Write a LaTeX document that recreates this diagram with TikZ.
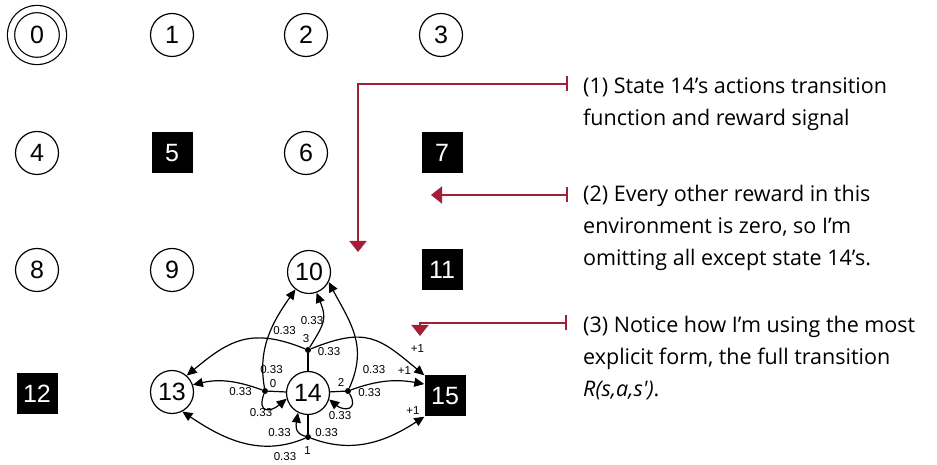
\documentclass[tikz,border=0pt]{standalone}
\usepackage{fontspec}
\setmainfont{Liberation Sans}
\newfontfamily\notefont{Open Sans}
\usetikzlibrary{arrows.meta}
\definecolor{notered}{RGB}{164,30,55}
\begin{document}
\begin{tikzpicture}[x=1pt,y=1pt]
  \tikzset{
    st/.style={circle,draw,line width=1.2pt,minimum size=43pt,inner sep=0pt,
               font=\fontsize{25}{25}\selectfont},
    hole/.style={rectangle,fill=black,text=white,minimum size=41pt,inner sep=0pt,
                 font=\fontsize{25}{25}\selectfont},
    goal/.style={st,minimum size=52pt,double,double distance=6pt},
    act/.style={circle,fill=black,inner sep=0pt,minimum size=6pt},
    pr/.style={font=\fontsize{11.5}{12}\selectfont,inner sep=0pt},
    ar/.style={-{Triangle[length=10pt,width=9pt]},line width=1.2pt},
    nt/.style={draw=notered,fill=none,line width=1.8pt,
               {Bar[width=15pt]}-{Triangle[length=11pt,width=17pt]}},
    txt/.style={anchor=west,align=left,inner sep=0pt,
                font=\notefont\fontsize{21.5}{32}\selectfont}
  }
  \useasboundingbox (0,0) rectangle (937,465);

  % grid of states
  \node[goal] (s0) at (37,430) {0};
  \node[st] (s1) at (172,430) {1};
  \node[st] (s2) at (306,430) {2};
  \node[st] (s3) at (441,430) {3};
  \node[st] (s4) at (37,312) {4};
  \node[hole] (s5) at (172,312) {5};
  \node[st] (s6) at (306,312) {6};
  \node[hole] (s7) at (442,312) {7};
  \node[st] (s8) at (37,195) {8};
  \node[st] (s9) at (172,195) {9};
  \node[st] (s10) at (309,193) {10};
  \node[hole] (s11) at (442,195) {11};
  \node[hole] (s12) at (37,71) {12};
  \node[st] (s13) at (172,73) {13};
  \node[st] (s14) at (308,72) {14};
  \node[hole] (s15) at (445,69) {15};

  % actions of state 14
  \node[act] (a0) at (265,74) {};
  \node[act] (a2) at (348,74) {};
  \node[act] (a3) at (308,115) {};
  \node[act] (a1) at (308,28) {};
  \node[pr] (l0) at (273,81.5) {0};
  \node[pr] (l2) at (341,83) {2};
  \node[pr] (l3) at (306,126) {3};
  \node[pr] (l1) at (307.5,14.5) {1};

  \draw[line width=1.2pt] (s14) -- (a0);
  \draw[line width=1.2pt] (s14) -- (a2);
  \draw[line width=1.2pt] (s14) -- (a3);
  \draw[line width=1.2pt] (s14) -- (a1);

  % transitions
  \draw[ar] (a0) to[out=160,in=13] (s13.19);
  \draw[ar] (a0) to[out=250,in=220,looseness=2.3] (s14.195);
  \draw[ar] (a0) to[out=100,in=235] (s10.232);
  \draw[ar] (a3) to[out=58,in=292,looseness=1.3] (s10.290);
  \draw[ar] (a3) to[out=158,in=40,looseness=1.2] (s13.48);
  \draw[ar] (a3) to[out=22,in=140,looseness=1.3] (s15.north west);
  \draw[ar] (a2) to[out=66,in=298,looseness=1.1] (s10.333);
  \draw[ar] (a2) to[out=20,in=170] (s15.150);
  \draw[ar] (a2) to[out=300,in=321,looseness=2.3] (s14.343);
  \draw[ar] (a1) to[out=203,in=326] (s13.298);
  \draw[ar] (a1) to[out=339,in=213] (s15.south west);
  \draw[ar] (a1) to[out=165,in=261,looseness=1.2] (s14.243);

  \node[pr] (p0a) at (240.5,73.5) {0.33};
  \node[pr] (p0b) at (261,52.5) {0.33};
  \node[pr] (p0c) at (271.5,95.5) {0.33};
  \node[pr] (p3a) at (312,144) {0.33};
  \node[pr] (p3b) at (284.5,134.5) {0.33};
  \node[pr] (p3c) at (329,113) {0.33};
  \node[pr] (r3) at (417.5,116) {+1};
  \node[pr] (p2a) at (374,95.5) {0.33};
  \node[pr] (p2b) at (369.5,72.5) {0.33};
  \node[pr] (r2) at (404.5,94) {+1};
  \node[pr] (p2c) at (340,49.5) {0.33};
  \node[pr] (p1a) at (285,8.5) {0.33};
  \node[pr] (p1b) at (326.5,32) {0.33};
  \node[pr] (r1) at (413,54) {+1};
  \node[pr] (p1c) at (279.5,32) {0.33};

  % notes
  \coordinate (n1) at (568,381);
  \coordinate (t1) at (358,213);
  \coordinate (n2) at (568,270);
  \coordinate (t2) at (431,270);
  \coordinate (n3) at (567,142);
  \coordinate (t3) at (420,129);
  \draw[nt] (n1) -| (t1);
  \draw[nt] (n2) -- (t2);
  \draw[nt] (n3) -| (t3);

  \node[txt] (c1) at (583,361) {(1) State 14’s actions transition\\function and reward signal};
  \node[txt] (c2) at (583,237.5) {(2) Every other reward in this\\environment is zero, so I’m\\omitting all except state 14’s.};
  \node[txt] (c3) at (583,106.5) {(3) Notice how I’m using the most\\explicit form, the full transition\\{\itshape R(s,a,s')}.};
\end{tikzpicture}
\end{document}
